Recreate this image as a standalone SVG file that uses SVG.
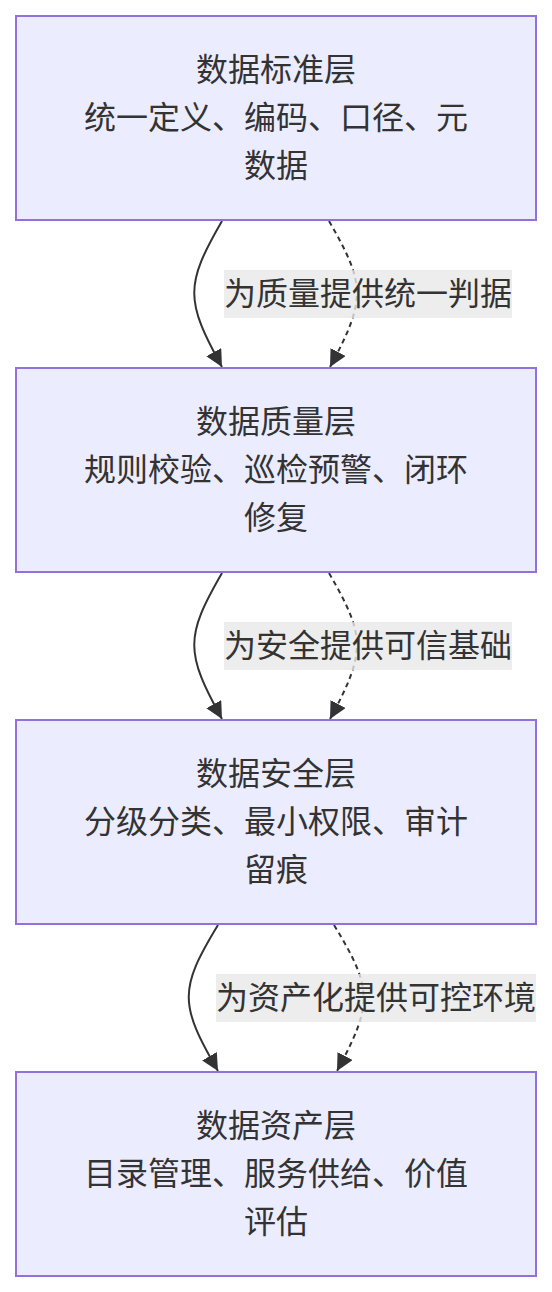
<svg xmlns="http://www.w3.org/2000/svg" width="552" height="1292" viewBox="0 0 552 1292">
<defs>
<style>
.node rect{fill:#ECECFF;stroke:#9370DB;stroke-width:2}
.node text{font-family:"Noto Sans CJK SC","Noto Sans",sans-serif;font-size:32px;fill:#333;text-anchor:middle}
.edge{fill:none;stroke:#333;stroke-width:2}
.dotted{stroke-dasharray:5 4}
.lbl rect{fill:rgba(232,232,232,0.8)}
.lbl text{font-family:"Noto Sans CJK SC","Noto Sans",sans-serif;font-size:32px;fill:#333;text-anchor:middle}
</style>
<marker id="arr" viewBox="0 0 10 10" refX="10" refY="5" markerUnits="userSpaceOnUse" markerWidth="17" markerHeight="17" orient="auto">
<path d="M0,0 L10,5 L0,10 z" fill="#333"/>
</marker>
</defs>
<g id="connectors">
<path class="edge" d="M222,221 C185,285 185,300 222,367" marker-end="url(#arr)"/>
<path class="edge dotted" d="M329,221 C366,285 366,300 330,367" marker-end="url(#arr)"/>
<path class="edge" d="M222,573 C185,637 185,652 222,719" marker-end="url(#arr)"/>
<path class="edge dotted" d="M329,573 C366,637 366,652 330,719" marker-end="url(#arr)"/>
<path class="edge" d="M218,925 C179,989 179,1004 218,1071" marker-end="url(#arr)"/>
<path class="edge dotted" d="M334,925 C373,989 373,1004 337,1071" marker-end="url(#arr)"/>
<g class="lbl" id="label1"><rect x="224" y="270" width="288" height="48"/><text x="368" y="305">为质量提供统一判据</text></g>
<g class="lbl" id="label2"><rect x="224" y="622" width="288" height="48"/><text x="368" y="657">为安全提供可信基础</text></g>
<g class="lbl" id="label3"><rect x="216" y="974" width="320" height="48"/><text x="376" y="1009">为资产化提供可控环境</text></g>
</g>
<g class="node" id="standard">
<rect x="16" y="16" width="520" height="204"/>
<text x="276" y="81">数据标准层</text>
<text x="276" y="129">统一定义、编码、口径、元</text>
<text x="276" y="177">数据</text>
</g>
<g class="node" id="quality">
<rect x="16" y="368" width="520" height="204"/>
<text x="276" y="433">数据质量层</text>
<text x="276" y="481">规则校验、巡检预警、闭环</text>
<text x="276" y="529">修复</text>
</g>
<g class="node" id="security">
<rect x="16" y="720" width="520" height="204"/>
<text x="276" y="785">数据安全层</text>
<text x="276" y="833">分级分类、最小权限、审计</text>
<text x="276" y="881">留痕</text>
</g>
<g class="node" id="asset">
<rect x="16" y="1072" width="520" height="204"/>
<text x="276" y="1137">数据资产层</text>
<text x="276" y="1185">目录管理、服务供给、价值</text>
<text x="276" y="1233">评估</text>
</g>
</svg>
